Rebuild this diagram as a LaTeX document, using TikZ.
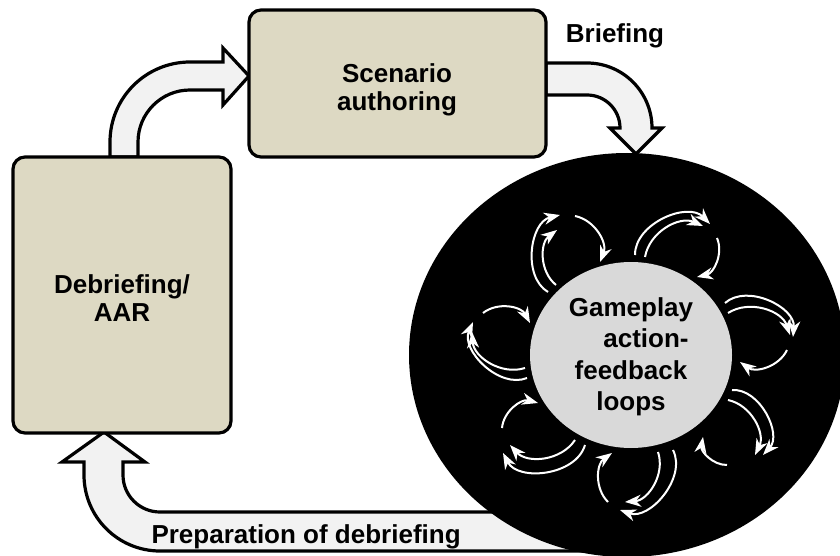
\documentclass[tikz,border=0pt]{standalone}
\usepackage{fontspec}
\setmainfont{Liberation Sans}
\usetikzlibrary{arrows.meta,shapes.geometric}

\definecolor{boxtan}{HTML}{DDD9C3}
\definecolor{arrowgrey}{HTML}{F2F2F2}
\definecolor{hubgrey}{HTML}{D9D9D9}

\tikzset{
  stagebox/.style={draw=black,line width=3.2pt,rounded corners=12pt,fill=boxtan},
  blockarrow/.style={draw=black,line width=3.2pt,fill=arrowgrey,line join=miter},
  stagetext/.style={align=center,font=\fontsize{26}{28}\selectfont\bfseries},
  looparc/.style={draw=white,line width=2pt,-{Stealth[length=16pt,width=12pt,inset=5pt,fill=white]}},
}

\begin{document}
\begin{tikzpicture}[x=1pt,y=-1pt]
      \useasboundingbox (0,0) rectangle (840,556);
      \clip (0,0) rectangle (840,556);

      % arrow back to the debriefing, runs under the game circle
      \draw[blockarrow] (600,551) -- (160,551) arc[start angle=90,end angle=180,radius=76]
        -- (84,462) -- (62,462) -- (104,432) -- (145,462) -- (123,462) -- (123,475)
        arc[start angle=180,end angle=90,radius=37] -- (600,512) -- cycle;
      \node[stagetext,anchor=base west] (prep) at (148,543) {Preparation of debriefing};

      % debriefing -> authoring
      \draw[blockarrow] (110,157) -- (110,142) arc[start angle=180,end angle=270,radius=80]
        -- (223,62) -- (223,48) -- (249,76) -- (223,105) -- (223,90) -- (190,90)
        arc[start angle=270,end angle=180,radius=52] -- (138,157) -- cycle;

      % authoring -> gameplay (briefing)
      \draw[blockarrow] (546,63) -- (587,63) arc[start angle=270,end angle=360,radius=65]
        -- (662,128) -- (636,154) -- (610,128) -- (620,128)
        arc[start angle=0,end angle=-90,radius=33] -- (546,95) -- cycle;
      \node[stagetext,anchor=base] (brief) at (615,43) {Briefing};

      \node[stagebox,minimum width=297pt,minimum height=147pt] (scen) at (397.5,83.5) {};
      \node[stagetext] (scentext) at (397,90) {Scenario\\authoring};
      \node[stagebox,minimum width=218pt,minimum height=276pt] (debrief) at (122,295) {};
      \node[stagetext] (debrieftext) at (122,298) {Debriefing/\\AAR};

      % game circle
      \fill[black] (627,355) ellipse [x radius=218,y radius=202];
      \node[ellipse,fill=hubgrey,minimum width=202pt,minimum height=186pt] (hub) at (631,355) {};
      \node[stagetext,font=\fontsize{26}{31.5}\selectfont\bfseries] (hubtext) at (631,357)
        {Gameplay\\\hspace*{30pt}action-\\feedback\\loops};

      % action-feedback loops
      \draw[looparc] (548,292) to[bend left=68] (560,215);
      \draw[looparc] (556,285) to[bend left=52] (557,230);
      \draw[looparc] (575,216) to[bend left=50] (600,262);

      \draw[looparc] (635,255) to[bend left=68] (710,224);
      \draw[looparc] (645,257) to[bend left=52] (703,226);
      \draw[looparc] (717,238) to[bend left=50] (697,277);

      \draw[looparc] (725,303) to[bend left=68] (793,337);
      \draw[looparc] (728,313) to[bend left=52] (790,335);
      \draw[looparc] (787,350) to[bend left=50] (740,362);

      \draw[looparc] (732,390) to[bend left=68] (763,455);
      \draw[looparc] (728,400) to[bend left=52] (755,455);
      \draw[looparc] (727,465) to[bend left=50] (703,437);

      \draw[looparc] (673,450) to[bend left=68] (620,510);
      \draw[looparc] (658,452) to[bend left=52] (625,502);
      \draw[looparc] (608,502) to[bend left=50] (612,453);

      \draw[looparc] (585,445) to[bend left=68] (503,453);
      \draw[looparc] (575,440) to[bend left=52] (510,445);
      \draw[looparc] (502,428) to[bend left=50] (538,403);

      \draw[looparc] (527,378) to[bend left=68] (473,322);
      \draw[looparc] (525,368) to[bend left=52] (472,332);
      \draw[looparc] (483,313) to[bend left=50] (530,323);
\end{tikzpicture}
\end{document}
